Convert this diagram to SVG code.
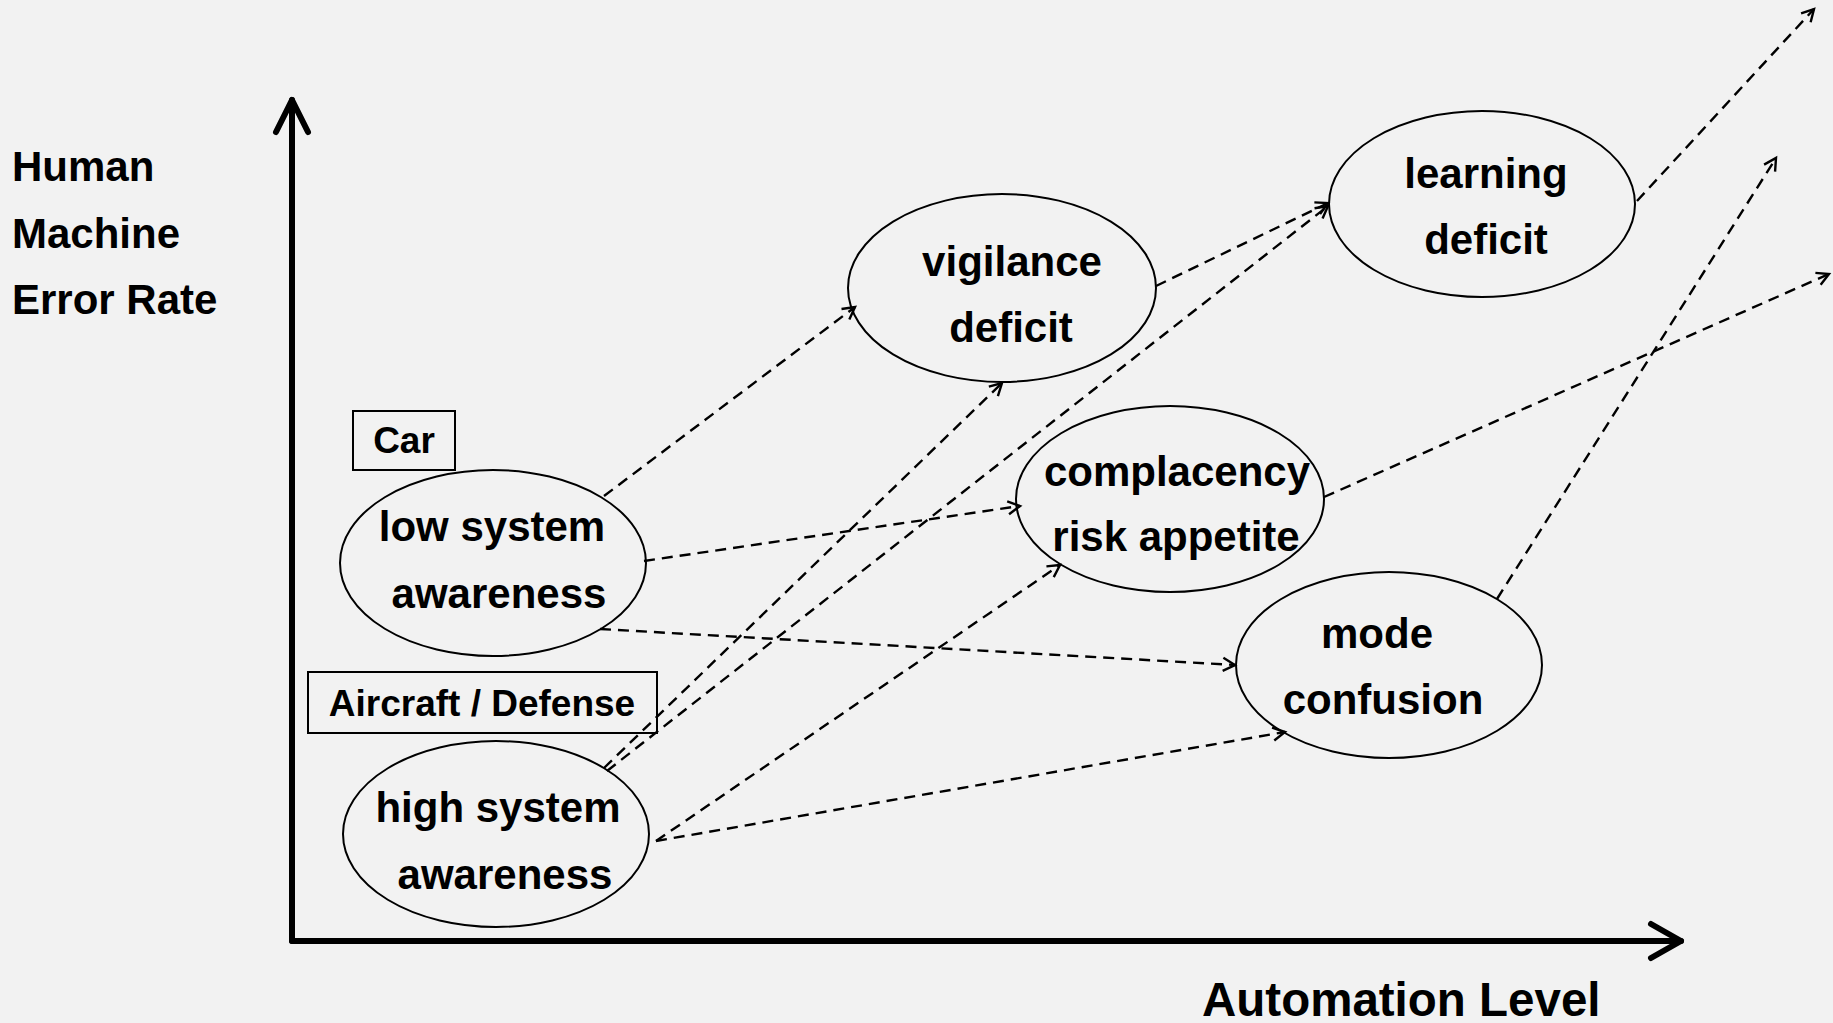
<svg xmlns="http://www.w3.org/2000/svg" width="1833" height="1023" viewBox="0 0 1833 1023">
<defs>
<style>
.t{font-family:"Liberation Sans",Arial,sans-serif;font-weight:bold;fill:#000}
.lbl{font-size:42px}
.box{font-size:37px}
.node ellipse{fill:none;stroke:#000;stroke-width:2}
.tag rect{fill:none;stroke:#000;stroke-width:2}
.c{fill:none;stroke:#000;stroke-width:2.4;stroke-dasharray:11 7;marker-end:url(#ah)}
.ax{fill:none;stroke:#000;stroke-width:6;stroke-linecap:round;stroke-linejoin:round}
</style>
<marker id="ah" markerUnits="userSpaceOnUse" markerWidth="20" markerHeight="20" refX="14" refY="8" orient="auto" viewBox="0 0 20 16">
<path d="M2,1.5 L14,8 L2,14.5" fill="none" stroke="#000" stroke-width="2.4"/>
</marker>
</defs>
<rect width="1833" height="1023" fill="#f2f2f2"/>
<g id="axes">
<path class="ax" d="M292,941 V100"/>
<path class="ax" d="M276,132 L292,100 L308,132"/>
<path class="ax" d="M292,941 H1681"/>
<path class="ax" d="M1651,924 L1681,941 L1651,958"/>
<text class="t lbl" x="12" y="181">Human</text>
<text class="t lbl" x="12" y="248">Machine</text>
<text class="t lbl" x="12" y="314">Error Rate</text>
<text class="t" style="font-size:47.5px" x="1202" y="1016">Automation Level</text>
</g>
<g id="connectors">
<path class="c" d="M604,496 L855,307"/>
<path class="c" d="M644,561 L1020,506"/>
<path class="c" d="M600,629 L1235,665"/>
<path class="c" d="M604,768 L1002,383"/>
<path class="c" d="M607,771 L1328,206"/>
<path class="c" d="M656,841 L1060,565"/>
<path class="c" d="M656,841 L1285,732"/>
<path class="c" d="M1156,286 L1328,203"/>
<path class="c" d="M1637,201 L1814,9"/>
<path class="c" d="M1324,497 L1829,274"/>
<path class="c" d="M1497,599 L1776,158"/>
</g>
<g id="car" class="tag">
<rect x="353" y="411" width="102" height="59"/>
<text class="t box" x="404" y="453" text-anchor="middle">Car</text>
</g>
<g id="aircraft" class="tag">
<rect x="308" y="672" width="349" height="61"/>
<text class="t box" x="482" y="716" text-anchor="middle">Aircraft / Defense</text>
</g>
<g id="low" class="node">
<ellipse cx="493" cy="563" rx="153" ry="93"/>
<text class="t lbl" x="492" y="541" text-anchor="middle">low system</text>
<text class="t lbl" x="499" y="608" text-anchor="middle">awareness</text>
</g>
<g id="high" class="node">
<ellipse cx="496" cy="834" rx="153" ry="93"/>
<text class="t lbl" x="498" y="822" text-anchor="middle">high system</text>
<text class="t lbl" x="505" y="889" text-anchor="middle">awareness</text>
</g>
<g id="vigilance" class="node">
<ellipse cx="1002" cy="288" rx="154" ry="94"/>
<text class="t lbl" x="1012" y="276" text-anchor="middle">vigilance</text>
<text class="t lbl" x="1011" y="342" text-anchor="middle">deficit</text>
</g>
<g id="complacency" class="node">
<ellipse cx="1170" cy="499" rx="154" ry="93"/>
<text class="t lbl" x="1177" y="486" text-anchor="middle">complacency</text>
<text class="t lbl" x="1176" y="551" text-anchor="middle">risk appetite</text>
</g>
<g id="learning" class="node">
<ellipse cx="1482" cy="204" rx="153" ry="93"/>
<text class="t lbl" x="1486" y="188" text-anchor="middle">learning</text>
<text class="t lbl" x="1486" y="254" text-anchor="middle">deficit</text>
</g>
<g id="mode" class="node">
<ellipse cx="1389" cy="665" rx="153" ry="93"/>
<text class="t lbl" x="1377" y="648" text-anchor="middle">mode</text>
<text class="t lbl" x="1383" y="714" text-anchor="middle">confusion</text>
</g>
</svg>
